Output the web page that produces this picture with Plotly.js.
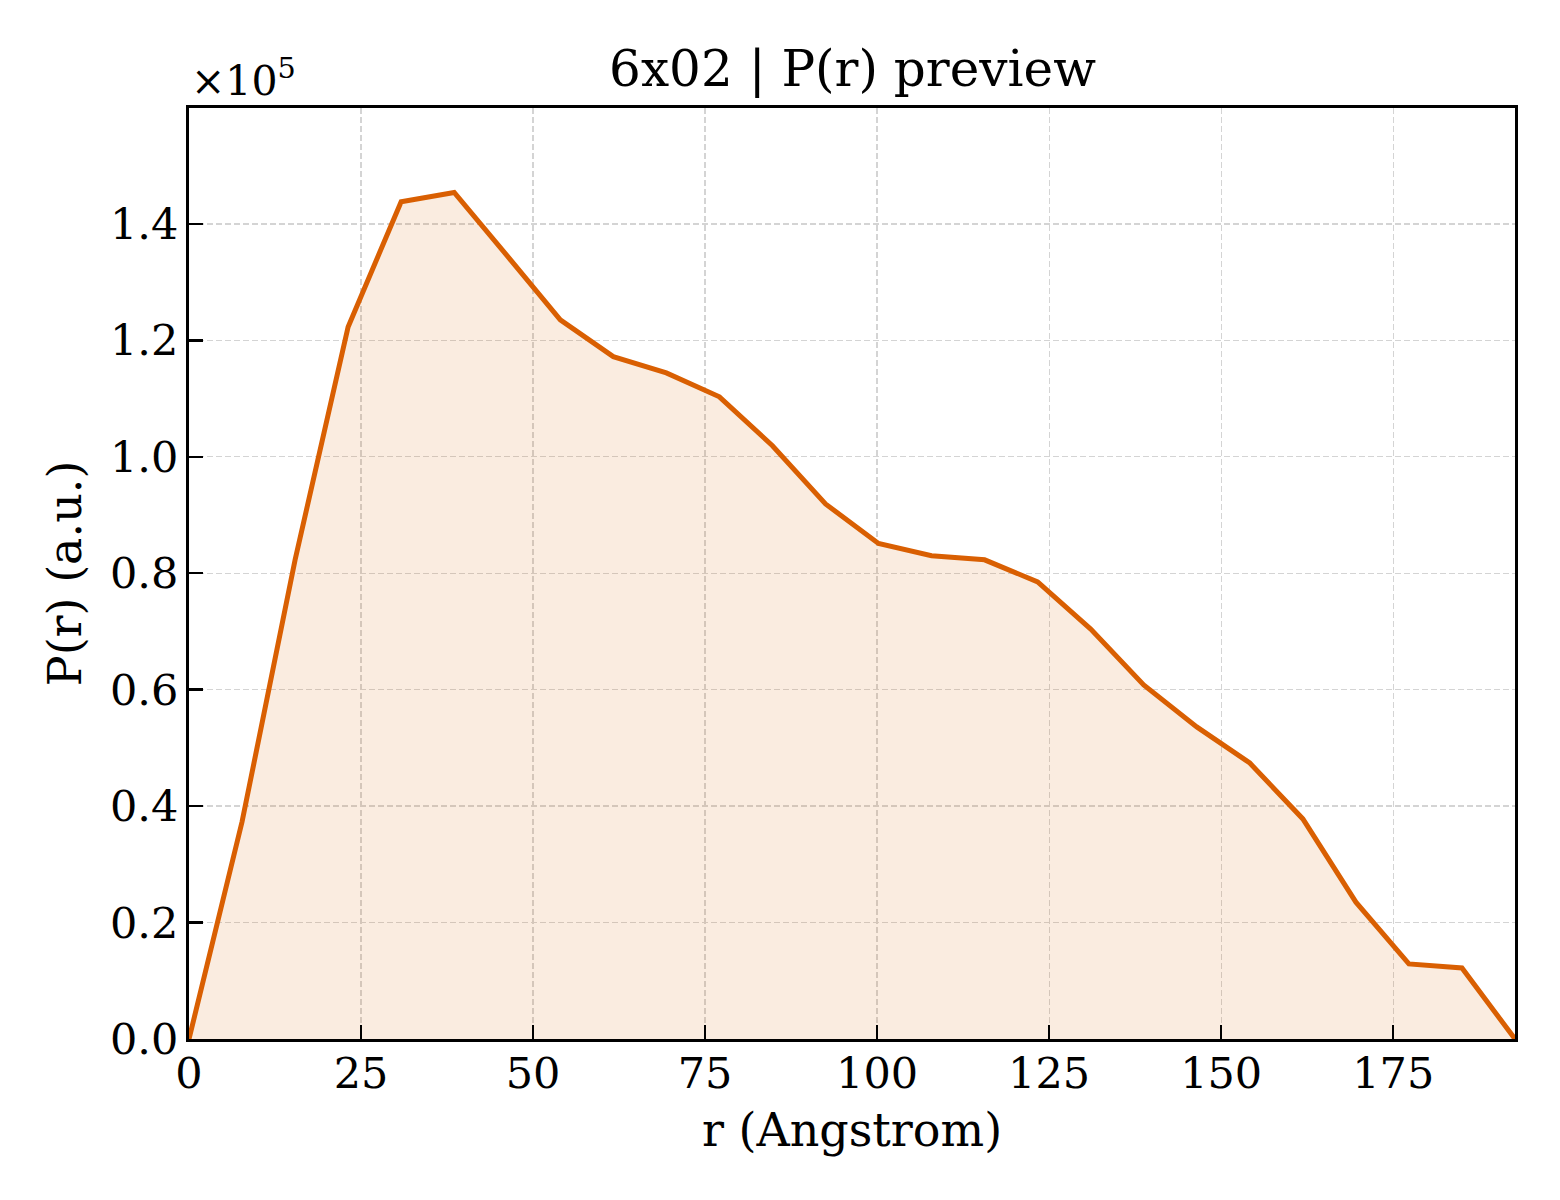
<!DOCTYPE html>
<html>
<head>
<meta charset="utf-8">
<script src="https://cdn.plot.ly/plotly-3.0.1.min.js"></script>
<style>html,body{margin:0;padding:0;background:#fff;}</style>
</head>
<body>
<div id="chart" style="width:1560px;height:1200px;"></div>
<script>
// r in Angstrom
const rValues = [0, 7.71, 15.42, 23.12, 30.83, 38.54, 46.25, 53.96, 61.66, 69.37, 77.08, 84.79, 92.50, 100.20, 107.91, 115.62, 123.33, 131.04, 138.74, 146.45, 154.16, 161.87, 169.58, 177.28, 184.99, 192.70];
// P(r) in units of 1e5
const prValues = [0, 0.373, 0.823, 1.223, 1.438, 1.454, 1.345, 1.235, 1.172, 1.144, 1.103, 1.019, 0.919, 0.851, 0.830, 0.823, 0.785, 0.704, 0.608, 0.536, 0.474, 0.378, 0.235, 0.129, 0.122, 0];
const xTicks = [0, 25, 50, 75, 100, 125, 150, 175];
const yTicks = [0, 0.2, 0.4, 0.6, 0.8, 1.0, 1.2, 1.4];
const yTickText = ["0.0", "0.2", "0.4", "0.6", "0.8", "1.0", "1.2", "1.4"];

const font = "DejaVu Serif, serif";
const trace = {
  x: rValues, y: prValues, type: "scatter", mode: "lines",
  line: {color: "#D95F02", width: 5},
  fill: "tozeroy", fillcolor: "rgba(217,95,2,0.12)",
  hoverinfo: "skip"
};
const axisCommon = {
  showline: true, mirror: true, linecolor: "#000", linewidth: 3,
  ticks: "inside", ticklen: 14, tickwidth: 2.5, tickcolor: "#000",
  showgrid: true, gridcolor: "#d4d4d4", gridwidth: 1.3, griddash: "6px,3px",
  zeroline: false, tickfont: {family: font, size: 43, color: "#000"}
};
const layout = {
  width: 1560, height: 1200,
  margin: {l: 189, r: 45, t: 108, b: 161},
  paper_bgcolor: "#fff", plot_bgcolor: "#fff",
  showlegend: false,
  font: {family: font, color: "#000"},
  title: {text: "6x02 | P(r) preview", font: {family: font, size: 50, color: "#000"}, x: 0.5465, xanchor: "center", y: 0.943, yanchor: "middle"},
  xaxis: Object.assign({}, axisCommon, {
    range: [0, 192.7], tickvals: xTicks, ticklabelstandoff: -6,
    title: {text: "r (Angstrom)", font: {family: font, size: 46, color: "#000"}, standoff: 18}
  }),
  yaxis: Object.assign({}, axisCommon, {
    range: [0, 1.599], tickvals: yTicks, ticktext: yTickText, ticklabelstandoff: -1,
    title: {text: "P(r) (a.u.)", font: {family: font, size: 46, color: "#000"}, standoff: 14}
  }),
  annotations: [{
    text: "×10<sup>5</sup>", xref: "paper", yref: "paper", x: 0, y: 1,
    xanchor: "left", yanchor: "bottom", yshift: 1, showarrow: false,
    font: {family: font, size: 41, color: "#000"}
  }]
};
Plotly.newPlot("chart", [trace], layout, {displayModeBar: false, staticPlot: true});
</script>
</body>
</html>
